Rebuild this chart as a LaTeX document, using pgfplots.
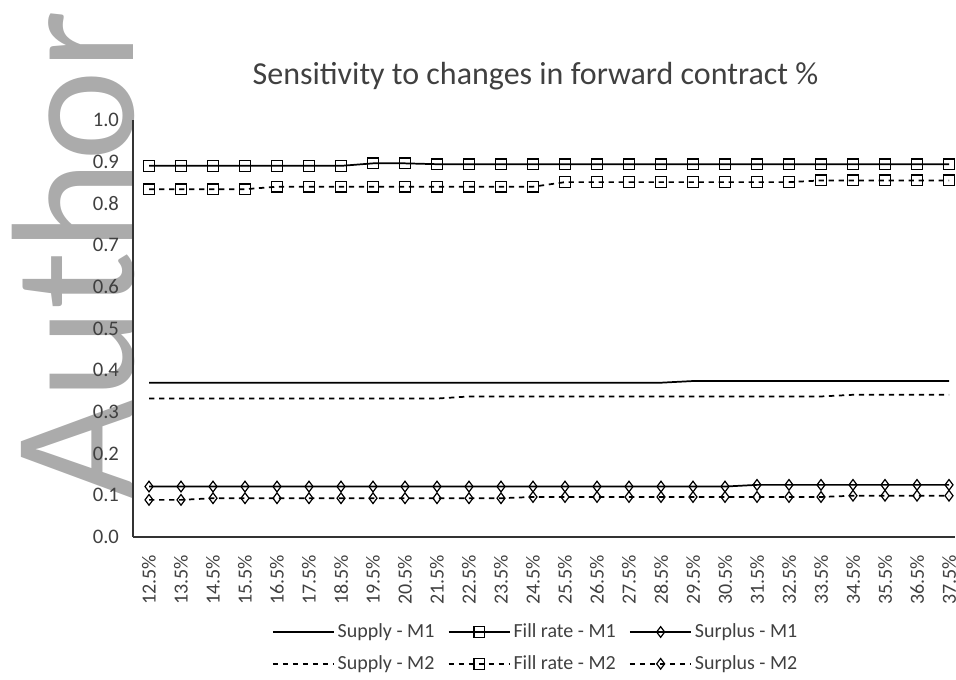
\documentclass[border=0pt]{standalone}
\usepackage{fontspec}
\setmainfont{Carlito}
\usepackage{pgfplots}
\usepackage{pgfplotstable}
\pgfplotsset{compat=1.18}
\definecolor{wm}{RGB}{171,171,171}
\definecolor{txt}{RGB}{64,64,64}

% values per forward contract step (12.5% ... 37.5%)
\pgfplotstableread{
i  supM1 fillM1 surM1 supM2 fillM2 surM2
0  0.370 0.890 0.121 0.332 0.834 0.089
1  0.370 0.890 0.121 0.332 0.834 0.089
2  0.370 0.890 0.121 0.332 0.834 0.093
3  0.370 0.890 0.121 0.332 0.834 0.093
4  0.370 0.890 0.121 0.332 0.840 0.093
5  0.370 0.890 0.121 0.332 0.840 0.093
6  0.370 0.890 0.121 0.332 0.840 0.093
7  0.370 0.896 0.121 0.332 0.840 0.093
8  0.370 0.896 0.121 0.332 0.840 0.093
9  0.370 0.894 0.121 0.332 0.840 0.093
10 0.370 0.894 0.121 0.337 0.840 0.093
11 0.370 0.894 0.121 0.337 0.840 0.093
12 0.370 0.894 0.121 0.337 0.840 0.096
13 0.370 0.894 0.121 0.337 0.851 0.096
14 0.370 0.894 0.121 0.337 0.851 0.096
15 0.370 0.894 0.121 0.337 0.851 0.096
16 0.370 0.894 0.121 0.337 0.851 0.096
17 0.374 0.894 0.121 0.337 0.851 0.096
18 0.374 0.894 0.121 0.337 0.851 0.096
19 0.374 0.894 0.125 0.337 0.851 0.096
20 0.374 0.894 0.125 0.337 0.851 0.096
21 0.374 0.894 0.125 0.337 0.855 0.096
22 0.374 0.894 0.125 0.341 0.855 0.099
23 0.374 0.894 0.125 0.341 0.855 0.099
24 0.374 0.894 0.125 0.341 0.855 0.099
25 0.374 0.894 0.125 0.341 0.855 0.099
}\data

\begin{document}
\begin{tikzpicture}
\useasboundingbox (0,0) rectangle (717pt,510pt);
% watermark behind the chart
\node[rotate=90, anchor=base west, inner sep=0pt, text=wm,
  font=\fontsize{134}{134}\selectfont] at (99.75pt,135pt) {\resizebox{367pt}{91pt}{Author}};
\node[anchor=base, text=txt, font=\fontsize{24}{27}\selectfont] at (401.6pt,446.25pt)
  {Sensitivity to changes in forward contract \%};
\begin{axis}[at={(99.75pt,107.25pt)}, anchor=south west,
  scale only axis, width=616.8pt, height=312.75pt,
  xmin=-0.5, xmax=25.2, ymin=0, ymax=1,
  axis lines=left, axis line style={-, black!80, line width=0.8pt},
  major tick length=0pt, clip=false,
  xtick={0,...,25},
  xticklabels={12.5\%,13.5\%,14.5\%,15.5\%,16.5\%,17.5\%,18.5\%,19.5\%,20.5\%,21.5\%,22.5\%,23.5\%,24.5\%,25.5\%,26.5\%,27.5\%,28.5\%,29.5\%,30.5\%,31.5\%,32.5\%,33.5\%,34.5\%,35.5\%,36.5\%,37.5\%},
  xticklabel style={rotate=90, anchor=east, text=txt, font=\fontsize{15}{17}\selectfont, xshift=-10pt},
  ytick={0,0.1,...,1.0},
  yticklabel style={text=txt, font=\fontsize{15.5}{17}\selectfont, xshift=-7pt,
    /pgf/number format/fixed, /pgf/number format/fixed zerofill, /pgf/number format/precision=1,
    /pgf/number format/assume math mode=true},
  legend columns=3,
  legend style={at={(0.49,-0.266)}, anchor=center, draw=none, fill=none,
    font=\fontsize{15}{17}\selectfont, text=txt,
    /tikz/every even column/.append style={column sep=8pt}, row sep=8pt},
  legend image code/.code={\draw[mark repeat=2, mark phase=2, #1]
    plot coordinates {(0pt,0pt) (23pt,0pt) (46pt,0pt)};},
  every axis plot/.append style={black, line width=1.3pt},
  ]
\addplot[no marks] table[x=i, y=supM1] {\data};
\addlegendentry{Supply - M1}
\addplot[mark=square, mark size=4pt, mark options={line width=1pt}] table[x=i, y=fillM1] {\data};
\addlegendentry{Fill rate - M1}
\addplot[mark=diamond, mark size=4pt, mark options={line width=0.9pt}] table[x=i, y=surM1] {\data};
\addlegendentry{Surplus - M1}
\addplot[no marks, dash pattern=on 4pt off 3.5pt] table[x=i, y=supM2] {\data};
\addlegendentry{Supply - M2}
\addplot[mark=square, mark size=4pt, dash pattern=on 4pt off 3.5pt, mark options={solid, line width=1pt}] table[x=i, y=fillM2] {\data};
\addlegendentry{Fill rate - M2}
\addplot[mark=diamond, mark size=4pt, dash pattern=on 4pt off 3.5pt, mark options={solid, line width=0.9pt}] table[x=i, y=surM2] {\data};
\addlegendentry{Surplus - M2}
\end{axis}
\end{tikzpicture}
\end{document}
